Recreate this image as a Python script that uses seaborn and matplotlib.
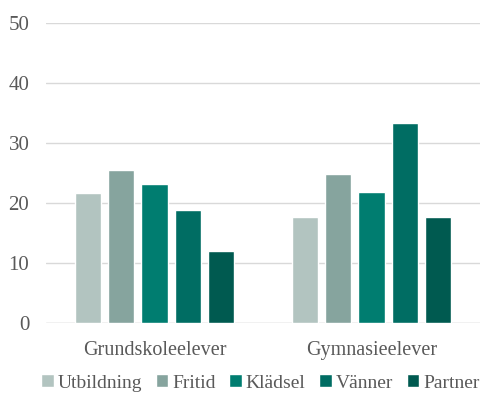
import matplotlib
matplotlib.use("Agg")
import matplotlib.pyplot as plt
import seaborn as sns
import pandas as pd

groups = ["Grundskoleelever", "Gymnasieelever"]
categories = ["Utbildning", "Fritid", "Klädsel", "Vänner", "Partner"]
grundskola = [21.7, 25.5, 23.2, 18.8, 12.0]
gymnasium = [17.6, 24.9, 21.9, 33.4, 17.6]
colors = ["#b2c4c0", "#86a49e", "#007d70", "#006d63", "#005a50"]
yticks = [0, 10, 20, 30, 40, 50]

df = pd.DataFrame({
    "grupp": [groups[0]] * len(categories) + [groups[1]] * len(categories),
    "kategori": categories * 2,
    "andel": grundskola + gymnasium,
})

sns.set_theme(style="white")
plt.rcParams["font.family"] = ["Liberation Serif", "DejaVu Serif"]
text_color = "#595959"

fig = plt.figure(figsize=(4.82, 3.96), dpi=100)
ax = fig.add_axes([46 / 482, 1 - 323 / 396, 434 / 482, 300 / 396])

sns.barplot(data=df, x="grupp", y="andel", hue="kategori", order=groups,
            hue_order=categories, palette=colors, width=0.77, gap=0.22,
            saturation=1, ax=ax, legend=True)

ax.set_ylim(0, 50)
ax.set_xlim(-0.5, 1.5)
ax.set_yticks(yticks)
ax.yaxis.grid(True, color="#d9d9d9", linewidth=1)
ax.set_axisbelow(True)
for s in ["top", "right", "left", "bottom"]:
    ax.spines[s].set_visible(False)
ax.axhline(0, color="#d9d9d9", linewidth=1, zorder=0)
ax.set_xlabel("")
ax.set_ylabel("")
ax.tick_params(axis="y", length=0, pad=12, labelsize=15, labelcolor=text_color)
ax.tick_params(axis="x", length=0, pad=13, labelsize=14.5, labelcolor=text_color)

handles, labels = ax.get_legend_handles_labels()
ax.legend_.remove()
fig.legend(handles, labels, loc="center", bbox_to_anchor=(0.54, 1 - 383 / 396),
           ncol=5, frameon=False, fontsize=14, labelcolor=text_color,
           handlelength=0.65, handleheight=0.65, handletextpad=0.2,
           columnspacing=0.7, borderaxespad=0)

fig.savefig("out.png", dpi=100)
